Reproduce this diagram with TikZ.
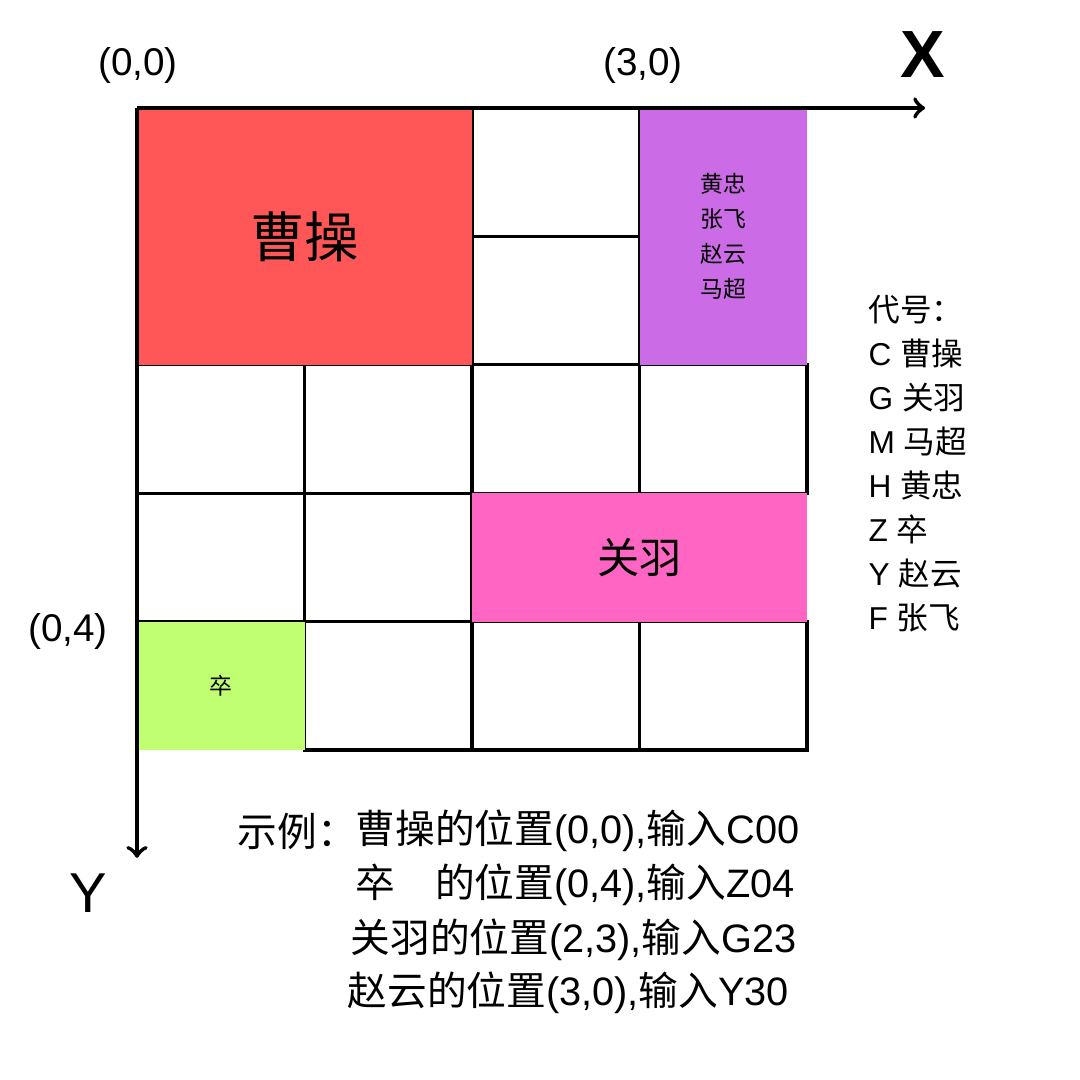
\documentclass[tikz,border=0pt]{standalone}
\usepackage{fontspec}
\setmainfont{Liberation Sans}
\newfontfamily\cjk{Noto Sans CJK SC}
\newcommand{\zh}[1]{{\cjk #1}}
\usetikzlibrary{positioning,calc,arrows}
\definecolor{caored}{HTML}{FF5757}
\definecolor{generalpurple}{HTML}{CB6CE6}
\definecolor{guanpink}{HTML}{FF66C4}
\definecolor{zugreen}{HTML}{C1FF72}

\begin{document}
\begin{tikzpicture}
	\useasboundingbox (0,0) rectangle (10.8,10.8);
	\begin{scope}[shift={(1.37,9.72)}, x=1.675cm, y=-1.284cm]
		\tikzstyle{cell}=[draw, line width=0.9pt, minimum width=1.675cm, minimum height=1.284cm, inner sep=0pt]
		\tikzstyle{piece}=[inner sep=0pt, align=center]
		% empty cells
		\foreach \c/\r in {2/0,2/1,0/2,1/2,2/2,3/2,0/3,1/3,1/4,2/4,3/4}
			\node[cell] (c\c\r) at (\c+0.5,\r+0.5) {};

		% pieces
		\node[piece, fill=caored, minimum width=3.35cm, minimum height=2.568cm, font=\fontsize{15.5}{18}\selectfont] (cao) at (1,1) {\raisebox{-0.6ex}{\zh{曹操}}};
		\node[piece, fill=generalpurple, minimum width=1.675cm, minimum height=2.568cm, font=\fontsize{6.5}{10}\selectfont] (generals) at (3.5,1) {\raisebox{-1.1ex}{\zh{黄忠}}\\\raisebox{-1.1ex}{\zh{张飞}}\\\raisebox{-1.1ex}{\zh{赵云}}\\\raisebox{-1.1ex}{\zh{马超}}};
		\node[piece, fill=guanpink, minimum width=3.35cm, minimum height=1.284cm, font=\fontsize{12}{14}\selectfont] (guan) at (3,3.5) {\raisebox{-0.4ex}{\zh{关羽}}};
		\node[piece, fill=zugreen, minimum width=1.675cm, minimum height=1.284cm, font=\fontsize{6.5}{8}\selectfont] (zu) at (0.5,4.5) {\raisebox{-0.6ex}{\zh{卒}}};

		% axes
		\coordinate (o) at (0,0);
		\coordinate (xend) at (4.705,0);
		\coordinate (yend) at (0,5.84);
		\draw[->, line width=1.2pt] (o) -- (xend);
		\draw[->, line width=1.2pt] (o) -- (yend);
	\end{scope}

	\tikzstyle{every node}=[inner sep=0pt]
	\node[font=\fontsize{11}{13}\selectfont] (p00) at (1.38,10.14) {(0,0)};
	\node[font=\fontsize{11}{13}\selectfont] (p30) at (6.43,10.14) {(3,0)};
	\node[font=\fontsize{11}{13}\selectfont] (p04) at (0.68,4.48) {(0,4)};
	\node[font=\fontsize{19}{22}\selectfont\bfseries] (xlabel) at (9.23,10.25) {X};
	\node[font=\fontsize{16}{19}\selectfont] (ylabel) at (0.88,1.87) {Y};

	% legend
	\node[anchor=west, align=left, font=\fontsize{9}{12.5}\selectfont] (legend) at (8.68,6.165)
		{\zh{代号：}\\C \zh{曹操}\\G \zh{关羽}\\M \zh{马超}\\H \zh{黄忠}\\Z \zh{卒}\\Y \zh{赵云}\\F \zh{张飞}};

	% examples
	\tikzstyle{example}=[anchor=west, font=\fontsize{11.3}{13}\selectfont]
	\node[example] (exlabel) at (2.37,2.49) {\zh{示例：}};
	\node[example] (ex1) at (3.55,2.49) {\zh{曹操的位置}(0,0),\zh{输入}C00};
	\node[example] (ex2) at (3.55,1.95) {\zh{卒　的位置}(0,4),\zh{输入}Z04};
	\node[example] (ex3) at (3.50,1.40) {\zh{关羽的位置}(2,3),\zh{输入}G23};
	\node[example] (ex4) at (3.47,0.87) {\zh{赵云的位置}(3,0),\zh{输入}Y30};
\end{tikzpicture}
\end{document}
